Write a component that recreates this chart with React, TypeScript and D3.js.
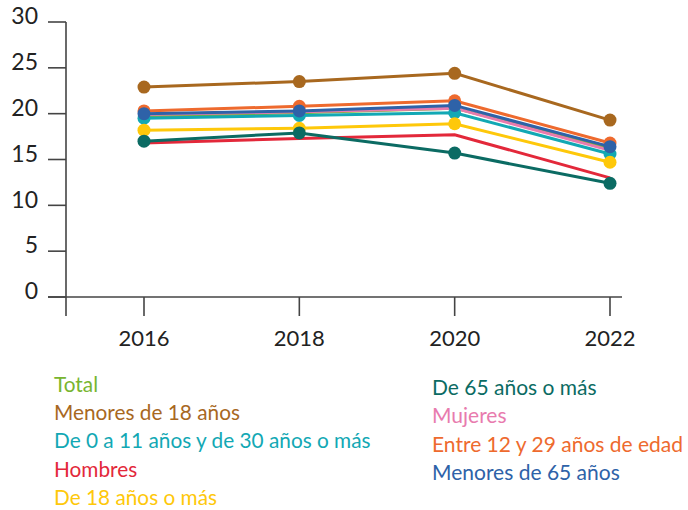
import * as d3 from "d3";

const years = ["2016", "2018", "2020", "2022"];
const yTicks = [0, 5, 10, 15, 20, 25, 30];

// series in drawing order (first is drawn at the bottom)
const seriesNames = [
  "Entre 12 y 29 años de edad",
  "Total",
  "Mujeres",
  "De 0 a 11 años y de 30 años o más",
  "Menores de 18 años",
  "De 18 años o más",
  "Hombres",
  "De 65 años o más",
  "Menores de 65 años",
];
const seriesValues = [
  [20.3, 20.8, 21.4, 16.8],
  [19.7, 20.1, 20.6, 16.2],
  [19.9, 20.2, 20.6, 16.0],
  [19.5, 19.8, 20.1, 15.6],
  [22.9, 23.5, 24.4, 19.3],
  [18.2, 18.4, 18.9, 14.7],
  [16.8, 17.3, 17.7, 13.0],
  [17.0, 17.9, 15.7, 12.4],
  [20.0, 20.3, 20.9, 16.4],
];
const seriesColors = [
  "#ee6a2e",
  "#78b530",
  "#e87bae",
  "#12a8b4",
  "#a8681f",
  "#fec80a",
  "#e3283a",
  "#0b6b63",
  "#2e62a8",
];
const seriesMarkers = [true, false, false, true, true, true, false, true, true];

const legendLeft = [
  "Total",
  "Menores de 18 años",
  "De 0 a 11 años y de 30 años o más",
  "Hombres",
  "De 18 años o más",
];
const legendRight = [
  "De 65 años o más",
  "Mujeres",
  "Entre 12 y 29 años de edad",
  "Menores de 65 años",
];

const W = 688;
const H = 510;
const font = "Lato, 'Open Sans', sans-serif";

export default function App() {
  const x = d3.scalePoint<string>().domain(years).range([144, 610]);
  const y = d3.scaleLinear().domain([0, 30]).range([297, 22]);
  const line = d3
    .line<number>()
    .x((_, i) => x(years[i]) as number)
    .y((d) => y(d));
  const colorOf = (name: string) => seriesColors[seriesNames.indexOf(name)];
  const axisColor = "#444";

  return (
    <div style={{ position: "fixed", left: 0, top: 0 }}>
      <svg width={W} height={H} style={{ display: "block", background: "#fff" }}>
        {/* y axis */}
        <line x1={66} x2={66} y1={y(30)} y2={316} stroke={axisColor} strokeWidth={1.6} />
        {yTicks.map((t) => (
          <g key={t}>
            <line x1={48} x2={66} y1={y(t)} y2={y(t)} stroke={axisColor} strokeWidth={1.6} />
            <text
              x={38}
              y={y(t)}
              dy="0.1em"
              textAnchor="end"
              fontFamily={font}
              fontSize={23}
              fill="#222"
            >
              {t}
            </text>
          </g>
        ))}
        {/* x axis */}
        <line x1={48} x2={622} y1={y(0)} y2={y(0)} stroke={axisColor} strokeWidth={1.6} />
        {years.map((yr) => (
          <g key={yr}>
            <line
              x1={x(yr)}
              x2={x(yr)}
              y1={y(0)}
              y2={316}
              stroke={axisColor}
              strokeWidth={1.6}
            />
            <text
              x={x(yr)}
              y={346}
              textAnchor="middle"
              fontFamily={font}
              fontSize={22}
              fill="#222"
            >
              {yr}
            </text>
          </g>
        ))}
        {/* lines */}
        {seriesNames.map((name, si) => (
          <g key={name}>
            <path
              d={line(seriesValues[si]) || ""}
              fill="none"
              stroke={seriesColors[si]}
              strokeWidth={3}
            />
            {seriesMarkers[si] &&
              seriesValues[si].map((v, i) => (
                <circle key={i} cx={x(years[i])} cy={y(v)} r={6.5} fill={seriesColors[si]} />
              ))}
          </g>
        ))}
        {/* legend */}
        {legendLeft.map((name, i) => (
          <text
            key={name}
            x={54}
            y={392 + i * 28.2}
            fontFamily={font}
            fontSize={20.8}
            fill={colorOf(name)}
          >
            {name}
          </text>
        ))}
        {legendRight.map((name, i) => (
          <text
            key={name}
            x={432}
            y={395 + i * 28.4}
            fontFamily={font}
            fontSize={21}
            fill={colorOf(name)}
          >
            {name}
          </text>
        ))}
      </svg>
    </div>
  );
}
